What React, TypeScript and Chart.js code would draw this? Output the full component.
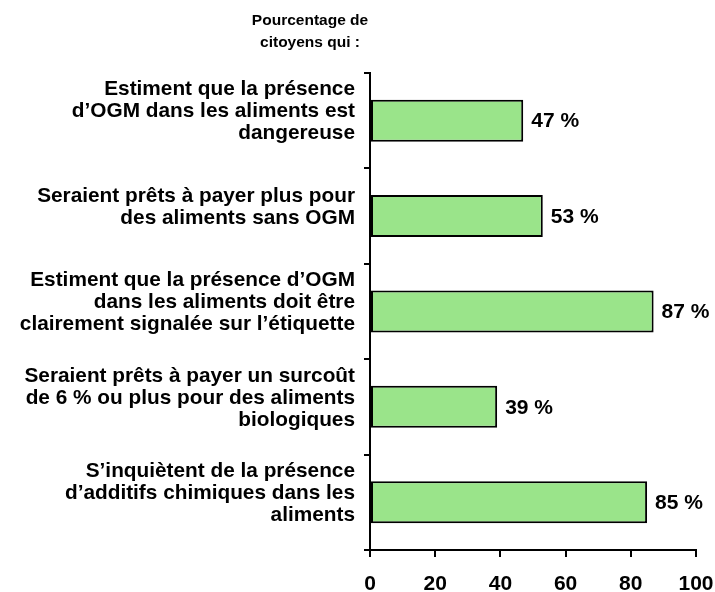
import React, { useEffect, useRef } from "react";
import { Chart, registerables } from "chart.js";

Chart.register(...registerables);

const titleLines = ["Pourcentage de", "citoyens qui :"];
const categories: string[][] = [
  ["Estiment que la présence", "d’OGM dans les aliments est", "dangereuse"],
  ["Seraient prêts à payer plus pour", "des aliments sans OGM"],
  ["Estiment que la présence d’OGM", "dans les aliments doit être", "clairement signalée sur l’étiquette"],
  ["Seraient prêts à payer un surcoût", "de 6 % ou plus pour des aliments", "biologiques"],
  ["S’inquiètent de la présence", "d’additifs chimiques dans les", "aliments"],
];
const values = [47, 53, 87, 39, 85];
const xTicks = [0, 20, 40, 60, 80, 100];

const FONT = "'Liberation Sans', Arial, sans-serif";

const labelPlugin = {
  id: "valueLabels",
  afterDatasetsDraw(chart: any) {
    const ctx = chart.ctx;
    const meta = chart.getDatasetMeta(0);
    ctx.save();
    ctx.font = `bold 21px ${FONT}`;
    ctx.fillStyle = "#000";
    ctx.textAlign = "left";
    ctx.textBaseline = "middle";
    meta.data.forEach((bar: any, i: number) => {
      ctx.fillText(`${values[i]} %`, bar.x + 8, bar.y + 1);
    });
    ctx.restore();
  },
};

const titlePlugin = {
  id: "sideTitle",
  afterDraw(chart: any) {
    const ctx = chart.ctx;
    ctx.save();
    ctx.font = `bold 15.5px ${FONT}`;
    ctx.fillStyle = "#000";
    ctx.textAlign = "center";
    ctx.textBaseline = "middle";
    titleLines.forEach((t, i) => ctx.fillText(t, 310, 21 + i * 22));
    ctx.restore();
  },
};

export default function App() {
  const ref = useRef<HTMLCanvasElement>(null);
  useEffect(() => {
    document.body.style.margin = "0";
    const chart = new Chart(ref.current!, {
      type: "bar",
      data: {
        labels: categories,
        datasets: [
          {
            data: values,
            backgroundColor: "#9ae48a",
            borderColor: "#000",
            borderWidth: 2,
            borderSkipped: false,
            barPercentage: 0.44,
            categoryPercentage: 1,
          },
        ],
      },
      options: {
        indexAxis: "y",
        animation: false,
        responsive: false,
        maintainAspectRatio: false,
        layout: { padding: { top: 73, right: 19, left: 0, bottom: 0 } },
        plugins: { legend: { display: false }, tooltip: { enabled: false }, title: { display: false } },
        scales: {
          x: {
            min: 0,
            max: 100,
            afterBuildTicks: (s: any) => {
              s.ticks = xTicks.map((v) => ({ value: v }));
            },
            afterFit: (s: any) => {
              s.height = 40;
              s.paddingRight = 0;
              s.paddingLeft = 0;
            },
            border: { color: "#000", width: 2 },
            grid: { drawOnChartArea: false, color: "#000", lineWidth: 2, tickLength: 7 },
            ticks: { color: "#000", font: { family: FONT, size: 21, weight: "bold" }, padding: 15 },
          },
          y: {
            afterFit: (s: any) => {
              s.width = 370;
            },
            border: { color: "#000", width: 2 },
            grid: { offset: true, drawOnChartArea: false, color: "#000", lineWidth: 2, tickLength: 6 },
            ticks: {
              color: "#000",
              crossAlign: "near",
              padding: 9,
              labelOffset: -9,
              font: { family: FONT, size: 20.8, weight: "bold", lineHeight: 1.06 },
            },
          },
        },
      },
      plugins: [labelPlugin, titlePlugin],
    } as any);
    return () => chart.destroy();
  }, []);
  return (
    <div style={{ width: 715, height: 592 }}>
      <canvas ref={ref} width={715} height={592} style={{ display: "block" }} />
    </div>
  );
}
